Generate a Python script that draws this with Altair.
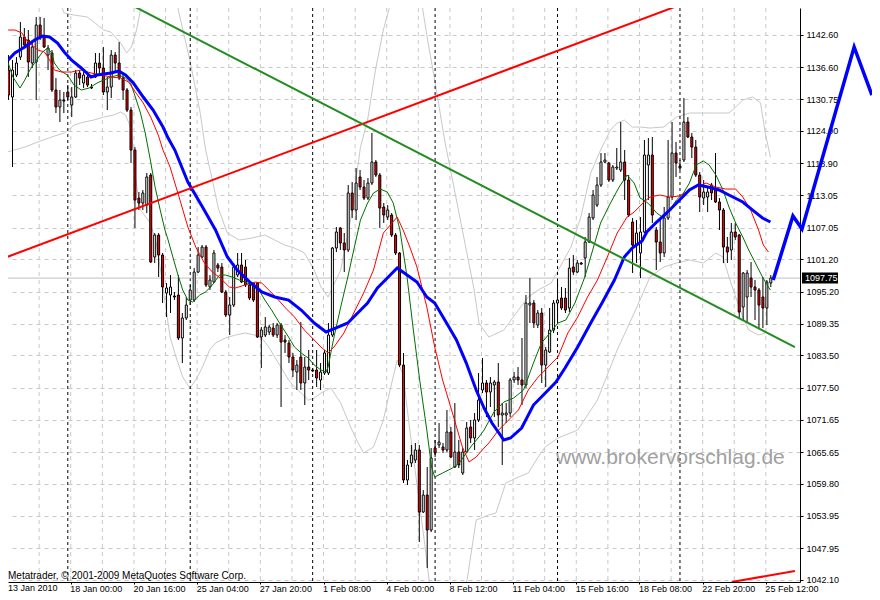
import json
import altair as alt
import pandas as pd

# ---------------- Candles (H4 bars, index 0 = 13 Jan 2010) ----------------
opens = [1136.10,1131.12,1135.18,1138.49,1142.18,1141.63,1137.39,1137.57,1144.39,1142.18,
         1138.86,1139.23,1132.41,1129.28,1130.57,1132.04,1129.65,1131.12,1135.54,1133.70,
         1134.81,1132.96,1134.81,1137.39,1136.47,1132.04,1132.96,1138.86,1137.39,1134.62,
         1132.41,1128.72,1121.35,1112.50,1111.58,1111.21,1116.74,1101.63,1105.68,1102.00,
         1094.99,1094.63,1094.44,1094.63,1086.70,1090.39,1093.70,1093.70,1098.86,1101.63,
         1103.47,1096.10,1097.02,1100.16,1099.79,1095.18,1090.94,1092.78,1098.31,1100.16,
         1099.79,1096.47,1096.84,1096.84,1086.88,1087.25,1087.81,1088.54,1087.25,1089.10,
         1086.33,1085.78,1083.20,1080.43,1083.20,1078.41,1081.35,1080.80,1080.80,1078.96,
         1080.25,1080.25,1087.25,1103.29,1106.98,1104.21,1102.92,1113.43,1110.29,1116.38,
         1114.53,1112.50,1115.27,1119.14,1116.74,1110.85,1109.00,1109.37,1105.68,1102.37,
         1081.72,1060.53,1063.66,1064.21,1066.06,1054.63,1057.76,1051.31,1066.42,1066.98,
         1066.61,1066.06,1069.37,1062.92,1065.69,1061.82,1065.69,1070.30,1068.27,1071.59,
         1077.12,1078.41,1076.75,1078.04,1078.59,1072.51,1072.51,1072.88,1078.96,1079.51,
         1078.96,1078.04,1092.78,1093.15,1089.10,1091.31,1081.72,1084.12,1088.17,1093.15,
         1094.07,1094.07,1092.23,1099.79,1098.86,1100.52,1101.45,1104.39,1108.82,1111.21,
         1114.90,1119.14,1118.96,1115.82,1118.03,1117.67,1119.14,1115.82,1108.08,1103.84,
         1102.37,1106.24,1118.59,1120.43,1106.61,1104.39,1102.37,1108.82,1112.69,1120.80,
         1118.40,1119.51,1126.51,1123.75,1121.90,1116.74,1112.50,1112.69,1114.90,1113.98,
         1111.77,1110.29,1103.47,1102.92,1106.24,1105.68,1092.41,1094.26,1097.76,1096.10,
         1095.55,1094.26,1092.23,1096.84]
highs = [1138.86,1137.94,1138.49,1144.94,1143.84,1143.47,1141.63,1145.87,1145.87,1145.68,
         1140.71,1139.78,1134.62,1132.41,1132.04,1133.33,1132.96,1136.10,1136.10,1135.73,
         1135.73,1133.52,1139.23,1139.23,1140.34,1134.81,1139.78,1139.42,1141.26,1135.54,
         1132.78,1129.28,1121.90,1113.61,1113.98,1117.11,1117.11,1106.05,1106.05,1102.37,
         1096.84,1098.31,1095.18,1098.31,1091.31,1094.26,1096.47,1099.60,1103.47,1103.84,
         1103.84,1098.31,1102.92,1100.52,1100.52,1095.55,1094.26,1100.52,1102.37,1102.37,
         1101.08,1096.84,1097.02,1097.02,1088.73,1090.57,1089.10,1089.47,1089.47,1089.47,
         1087.25,1086.33,1083.94,1082.64,1089.65,1083.20,1084.49,1081.17,1084.49,1082.09,
         1084.49,1089.47,1103.47,1107.16,1107.16,1106.05,1114.90,1115.45,1118.03,1117.67,
         1115.82,1116.19,1124.49,1119.51,1117.11,1111.58,1111.21,1109.74,1106.05,1102.55,
         1083.94,1064.21,1066.98,1067.35,1066.98,1058.68,1062.92,1066.42,1067.90,1071.03,
         1067.35,1073.43,1070.30,1074.72,1067.90,1066.42,1071.22,1071.59,1072.88,1080.25,
         1083.01,1078.96,1079.51,1078.96,1082.09,1074.72,1074.72,1079.33,1080.43,1081.35,
         1086.70,1094.63,1097.76,1093.70,1091.86,1092.23,1085.04,1092.23,1093.70,1097.39,
         1096.10,1095.92,1101.45,1102.00,1101.08,1100.71,1105.32,1109.74,1113.98,1116.38,
         1120.80,1120.80,1119.14,1118.59,1121.72,1126.51,1121.35,1116.74,1108.82,1108.45,
         1109.00,1123.20,1123.56,1123.75,1107.16,1108.45,1110.85,1123.20,1126.51,1122.83,
         1119.51,1130.94,1127.43,1124.49,1123.20,1117.30,1115.82,1114.53,1115.27,1120.80,
         1112.50,1110.66,1105.32,1107.90,1107.90,1105.90,1098.86,1099.23,1100.71,1097.39,
         1095.92,1097.94,1097.39,1098.31]
lows = [1130.57,1118.22,1134.81,1137.94,1140.34,1134.81,1136.47,1130.57,1141.63,1140.15,
        1136.10,1132.04,1128.17,1126.51,1128.17,1130.57,1127.43,1130.94,1133.33,1132.78,
        1132.96,1132.60,1134.62,1135.54,1131.49,1128.72,1130.94,1135.54,1134.25,1130.57,
        1128.36,1118.96,1106.98,1110.29,1110.29,1109.74,1100.52,1100.52,1097.94,1093.15,
        1090.57,1091.31,1093.70,1086.33,1082.09,1090.02,1092.78,1093.34,1098.68,1101.45,
        1096.10,1095.55,1096.84,1098.86,1094.99,1090.57,1087.25,1092.41,1097.94,1096.84,
        1096.10,1093.70,1093.34,1086.70,1081.17,1086.88,1087.25,1086.88,1086.70,1073.98,
        1083.94,1082.09,1079.51,1077.12,1077.12,1074.35,1078.96,1080.43,1077.67,1077.12,
        1079.88,1079.88,1086.88,1102.55,1102.92,1098.86,1102.55,1108.82,1108.45,1113.98,
        1112.14,1112.14,1114.90,1116.38,1106.98,1107.90,1108.45,1105.32,1102.00,1081.35,
        1059.97,1059.60,1062.92,1063.66,1049.10,1054.44,1044.31,1050.94,1064.77,1066.42,
        1065.50,1065.69,1064.58,1062.74,1062.74,1061.45,1065.50,1067.35,1066.06,1071.22,
        1076.56,1072.14,1073.98,1072.14,1070.30,1063.29,1071.03,1072.14,1078.41,1078.04,
        1074.35,1077.48,1089.47,1088.54,1088.54,1078.41,1077.67,1083.94,1087.62,1090.02,
        1091.86,1091.31,1091.49,1098.31,1098.68,1100.16,1097.94,1104.21,1108.45,1110.85,
        1114.53,1118.96,1115.45,1115.45,1117.67,1117.30,1112.14,1109.00,1098.68,1100.52,
        1097.76,1106.05,1112.14,1107.90,1099.23,1100.71,1101.63,1108.45,1112.14,1116.38,
        1117.67,1119.14,1123.56,1119.88,1116.38,1109.92,1111.21,1109.92,1112.14,1111.58,
        1106.61,1100.52,1100.52,1101.08,1104.76,1090.39,1090.02,1089.47,1094.26,1090.02,
        1088.54,1088.54,1089.10,1096.10]
closes = [1131.49,1136.10,1137.39,1142.18,1140.71,1137.57,1140.34,1144.39,1142.00,1140.34,
          1140.15,1132.41,1129.28,1130.57,1130.38,1131.12,1131.12,1135.54,1134.62,1135.18,
          1133.33,1132.78,1137.39,1136.47,1132.04,1132.96,1138.86,1137.39,1134.62,1132.41,
          1128.72,1121.35,1112.14,1111.58,1113.43,1116.38,1100.71,1105.68,1102.00,1096.10,
          1095.92,1096.10,1094.26,1086.70,1090.39,1092.78,1095.55,1098.86,1102.00,1103.47,
          1096.47,1097.39,1102.37,1099.60,1095.18,1090.94,1092.78,1099.79,1100.16,1097.02,
          1096.47,1094.07,1093.70,1086.88,1088.17,1088.73,1088.73,1087.25,1089.10,1085.96,
          1085.96,1083.20,1080.80,1081.72,1078.41,1081.35,1080.80,1080.62,1079.33,1080.43,
          1083.94,1087.25,1103.29,1106.24,1104.21,1102.92,1113.43,1110.29,1115.27,1114.53,
          1112.50,1115.27,1119.14,1116.74,1110.66,1109.37,1110.29,1105.68,1102.37,1081.72,
          1060.53,1063.29,1065.13,1066.06,1054.63,1057.76,1051.31,1064.58,1065.50,1067.53,
          1066.06,1069.37,1064.77,1065.69,1063.29,1065.69,1070.11,1068.27,1071.59,1075.27,
          1078.41,1076.75,1078.41,1078.59,1072.51,1072.88,1072.88,1078.96,1079.51,1078.96,
          1078.04,1093.15,1093.15,1089.47,1091.31,1081.72,1084.49,1088.17,1093.15,1093.70,
          1092.23,1091.86,1099.60,1098.86,1100.52,1100.34,1104.39,1109.00,1113.06,1114.90,
          1119.14,1119.51,1115.82,1118.22,1118.22,1119.14,1115.82,1109.37,1103.84,1106.05,
          1106.24,1120.43,1120.43,1109.37,1104.39,1102.37,1108.82,1112.69,1120.80,1118.96,
          1118.03,1126.51,1123.75,1121.90,1116.74,1112.69,1113.61,1113.61,1113.43,1111.77,
          1110.29,1103.47,1102.55,1106.24,1105.32,1091.49,1098.68,1098.68,1096.10,1095.55,
          1092.78,1092.23,1097.02,1097.76]

# ---------------- Indicator lines: (bar index, price) ----------------
ma_blue = [(-0.1,1137.94),(1.6,1139.23),(4.1,1140.34),(6.6,1141.63),(8.6,1142.36),(10.4,1142.18),
           (12.4,1141.07),(14.1,1139.42),(15.9,1137.94),(18.4,1136.47),(20.9,1134.81),(22.4,1135.18),
           (24.1,1135.36),(25.9,1135.54),(27.9,1135.91),(29.6,1135.18),(31.6,1133.70),(34.1,1131.12),
           (36.6,1128.72),(39.1,1125.59),(40.4,1123.56),(42.1,1121.35),(45.4,1115.45),(49.1,1110.85),
           (52.4,1106.61),(55.4,1101.63),(57.9,1099.23),(61.1,1097.02),(64.1,1095.18),(67.4,1094.26),
           (70.9,1093.70),(74.1,1091.86),(77.4,1089.47),(80.4,1087.81),(83.4,1088.73),(85.9,1089.47),
           (88.4,1091.31),(90.9,1093.15),(93.4,1095.92),(95.9,1097.76),(98.4,1099.60),(100.9,1098.31),
           (103.4,1097.02),(105.9,1094.26),(107.9,1093.15),(110.9,1089.47),(113.4,1086.33),(115.9,1082.09),
           (118.4,1077.12),(120.4,1073.80),(122.4,1071.03),(125.4,1067.90),(127.1,1068.27),(129.9,1070.11),
           (132.9,1074.35),(135.9,1076.56),(138.6,1078.59),(140.9,1081.17),(144.1,1085.04),(147.4,1089.47),
           (150.4,1093.34),(153.4,1097.39),(155.9,1101.63),(157.9,1103.29),(160.4,1104.60),(161.6,1106.24),
           (164.1,1108.08),(167.4,1110.29),(169.9,1112.14),(172.4,1113.98),(174.6,1114.90),(177.1,1114.53),
           (179.9,1113.98),(182.4,1113.06),(185.9,1111.77),(188.4,1110.29),(190.9,1108.82),(192.9,1108.08)]

ma_red = [(-0.1,1143.47),(1.6,1143.47),(3.4,1142.92),(4.9,1141.26),(6.6,1140.34),(7.4,1139.78),
          (9.1,1139.42),(10.4,1137.94),(11.6,1136.10),(13.4,1135.73),(15.9,1135.73),(18.4,1136.10),
          (20.9,1135.55),(23.4,1135.18),(25.9,1134.81),(28.4,1134.62),(30.4,1133.89),(32.1,1132.04),
          (34.1,1130.02),(36.1,1127.25),(37.9,1124.12),(39.1,1121.35),(40.9,1118.22),(43.4,1112.14),
          (45.4,1107.16),(47.4,1103.47),(49.6,1100.52),(51.6,1098.86),(53.6,1097.76),(55.9,1096.10),
          (57.4,1095.92),(59.9,1096.47),(62.4,1097.02),(64.1,1096.84),(65.9,1095.55),(67.9,1094.07),
          (69.9,1092.41),(72.4,1090.57),(74.9,1088.17),(77.4,1086.33),(79.1,1085.04),(80.9,1083.94),
          (82.4,1085.04),(84.9,1087.62),(87.4,1091.31),(89.9,1094.99),(92.4,1099.23),(94.9,1106.05),
          (97.1,1107.90),(98.4,1109.00),(99.9,1106.61),(101.6,1103.47),(103.4,1099.79),(105.9,1092.41),
          (107.9,1085.04),(109.9,1078.96),(112.4,1072.88),(114.9,1066.61),(116.6,1063.85),(118.4,1064.77),
          (120.4,1066.43),(121.6,1067.35),(124.1,1069.74),(126.6,1071.59),(129.1,1073.43),(131.6,1077.12),
          (134.1,1079.51),(136.6,1081.35),(139.1,1083.20),(141.6,1087.62),(144.1,1090.57),(146.6,1094.26),
          (149.1,1097.39),(151.6,1101.63),(154.1,1106.05),(156.6,1109.00),(158.4,1109.92),(160.9,1111.77),
          (162.4,1112.69),(164.9,1113.06),(167.4,1112.69),(169.9,1112.87),(172.4,1113.98),(174.1,1114.53),
          (176.6,1115.27),(179.1,1114.53),(181.6,1114.16),(184.1,1114.16),(185.9,1112.69),(187.9,1110.29),
          (189.9,1106.61),(191.1,1103.84),(192.4,1102.55)]

ma_green = [(-0.1,1137.39),(1.1,1134.81),(2.9,1132.78),(4.1,1134.25),(5.4,1136.10),(7.1,1137.94),
            (8.6,1139.42),(9.9,1140.15),(10.9,1139.23),(11.6,1137.39),(12.9,1136.10),(14.9,1135.18),
            (16.6,1133.33),(18.4,1132.41),(20.4,1132.78),(22.4,1133.70),(24.1,1134.25),(25.9,1134.81),
            (27.9,1135.18),(29.6,1134.62),(30.9,1133.70),(32.1,1131.12),(33.4,1128.17),(34.6,1124.49),
            (35.9,1119.51),(37.1,1114.53),(38.4,1110.29),(39.6,1106.61),(40.4,1104.76),(41.6,1101.63),
            (42.9,1098.31),(44.1,1095.55),(45.4,1093.70),(46.6,1093.34),(48.4,1094.63),(49.9,1095.18),
            (51.6,1096.47),(53.4,1098.31),(54.9,1098.31),(56.6,1097.94),(58.4,1097.39),(59.9,1097.02),
            (61.6,1096.47),(63.4,1095.55),(64.9,1093.70),(66.6,1091.86),(68.6,1089.47),(70.9,1086.88),
            (72.4,1085.04),(74.1,1083.94),(75.9,1083.01),(77.4,1081.72),(79.1,1080.80),(80.4,1080.43),
            (80.9,1081.35),(82.4,1086.88),(84.1,1092.41),(85.9,1097.94),(87.4,1102.92),(89.1,1108.45),
            (90.9,1111.58),(92.4,1113.43),(94.1,1114.16),(95.9,1113.61),(97.4,1111.58),(99.1,1106.61),
            (100.9,1097.94),(102.4,1088.73),(104.1,1078.96),(105.9,1069.74),(107.1,1062.92),(107.9,1061.08),
            (109.9,1061.82),(112.4,1062.74),(114.1,1063.66),(115.9,1065.50),(117.4,1066.98),(119.1,1068.45),
            (120.4,1069.74),(122.9,1073.06),(125.4,1074.90),(127.9,1075.64),(130.4,1077.12),(132.9,1082.09),
            (134.9,1085.78),(137.1,1087.62),(139.1,1089.47),(141.1,1090.02),(143.4,1093.15),(145.9,1097.94),
            (147.9,1102.92),(149.9,1107.90),(152.4,1111.58),(154.6,1114.53),(156.6,1116.74),(158.4,1115.27),
            (159.9,1112.50),(160.9,1112.14),(162.4,1111.21),(164.1,1109.74),(165.9,1108.82),(167.4,1110.29),
            (169.1,1112.14),(170.9,1113.43),(172.4,1115.27),(174.1,1118.59),(175.9,1119.33),(177.4,1118.59),
            (179.1,1116.74),(180.9,1113.98),(182.4,1110.85),(184.1,1107.90),(185.9,1105.32),(187.4,1102.92),
            (189.1,1100.52),(190.9,1097.94),(192.4,1096.10),(192.9,1095.55)]

band_upper_1 = [(11.6,1150.84),(14.1,1146.60),(16.6,1146.24),(19.9,1145.87),(21.6,1144.94),(24.1,1143.47),
                (25.9,1143.10),(28.4,1141.07),(29.9,1139.23),(31.1,1140.34),(32.4,1143.47),(33.4,1147.16),
                (34.1,1150.84)]
band_upper_2 = [(41.6,1150.84),(42.4,1149.00),(45.9,1137.94),(48.4,1128.72),(49.9,1121.35),(51.6,1115.82),
                (53.1,1110.66),(55.4,1106.05),(58.4,1104.76),(61.6,1105.13),(64.9,1105.68),(67.4,1104.76),
                (69.9,1103.84),(72.4,1103.29),(74.9,1102.37),(77.4,1099.23),(79.1,1096.10),(80.9,1094.26),
                (84.1,1099.23),(86.6,1108.45),(89.1,1121.90),(90.9,1126.88),(92.9,1136.10),(94.9,1143.47),
                (96.6,1148.08),(97.9,1150.84)]
band_upper_3 = [(104.1,1150.84),(106.1,1141.63),(107.9,1134.25),(110.4,1123.20),(112.9,1113.98),(115.4,1104.76),
                (117.9,1095.55),(119.1,1089.47),(121.6,1086.88),(125.4,1088.17),(129.1,1091.86),(131.6,1094.26),
                (134.1,1095.55),(137.4,1096.84),(139.9,1100.16),(142.4,1103.47),(144.9,1109.00),(147.4,1117.11),
                (149.9,1121.35),(152.4,1125.04),(154.1,1126.33),(155.9,1126.88),(157.9,1125.59),(159.9,1125.59),
                (162.4,1125.41),(165.9,1125.59),(169.1,1127.43),(172.4,1128.17),(175.9,1128.17),(179.1,1128.17),
                (182.4,1128.17),(184.1,1129.28),(185.9,1130.57),(188.4,1131.12),(190.4,1130.02),(191.6,1124.49),
                (192.9,1120.06)]
band_lower_1 = [(-0.4,1120.98),(4.1,1121.90),(7.4,1122.83),(10.9,1123.75),(14.1,1124.49),(16.6,1125.96),
                (19.1,1126.51),(21.6,1126.88),(24.1,1127.43),(26.6,1127.80),(28.4,1128.36),(29.6,1127.80),
                (30.9,1125.59),(31.6,1121.35),(32.1,1116.38),(33.4,1110.29),(35.9,1107.90),(37.4,1104.21),
                (38.6,1098.68),(39.9,1091.86),(40.9,1086.88),(42.4,1083.20),(44.1,1079.51),(45.9,1077.48),
                (47.4,1078.96),(49.1,1081.35),(50.9,1084.49),(52.4,1085.78),(54.9,1086.70),(57.4,1087.25),
                (59.9,1087.62),(62.4,1087.25),(64.1,1086.70),(65.9,1085.04),(67.4,1083.20),(69.1,1081.17),
                (70.9,1078.96),(72.4,1077.67),(74.1,1076.56),(75.9,1075.27),(77.4,1075.64),(79.1,1076.56),
                (81.6,1077.48),(84.1,1074.72),(86.6,1070.30),(88.4,1067.53),(89.9,1065.50),(92.4,1066.61),
                (94.9,1071.59),(96.6,1077.12),(98.4,1082.64),(99.9,1079.88),(101.6,1069.74),(103.6,1058.68),
                (105.4,1048.55),(107.1,1038.41)]
band_lower_2 = [(114.1,1038.41),(116.1,1042.10),(118.4,1053.15),(121.6,1054.08),(123.4,1054.44),(125.9,1059.97),
                (129.1,1061.08),(131.6,1061.82),(134.1,1064.77),(135.9,1066.61),(139.1,1068.27),(144.1,1069.74),
                (149.1,1075.27),(154.1,1084.49),(159.1,1092.41),(162.4,1097.94),(165.9,1099.79),(169.1,1100.52),
                (172.4,1101.08),(175.9,1100.52),(179.1,1102.37),(180.9,1101.63),(182.4,1097.94),(184.1,1094.26),
                (185.9,1090.57),(187.4,1088.17),(189.9,1087.25),(191.6,1087.62)]

# Forecast zig-zag drawn after the last bar
forecast = [(193.6,1097.39),(198.6,1109.19),(200.9,1106.79),(214.1,1140.34),(218.6,1131.49)]

# Hand-drawn trend lines (start, end)
trend_red = [(-0.4,1101.63),(170.6,1148.26)]
trend_red_low = [(183.1,1041.73),(199.1,1043.76)]
trend_green = [(30.1,1148.45),(199.1,1085.04)]

# Weekly period separators (bar index of Monday 00:00) and the bid line
week_start_bars = [15, 46, 77, 108, 139, 170]
last_price = 1097.75

# Axis labels
y_ticks = [1142.60, 1136.60, 1130.75, 1124.90, 1118.90, 1113.05, 1107.05, 1101.20, 1095.20,
           1089.35, 1083.50, 1077.50, 1071.65, 1065.65, 1059.80, 1053.95, 1047.95, 1042.10]
x_labels = ["18 Jan 00:00", "20 Jan 16:00", "25 Jan 04:00", "27 Jan 20:00", "1 Feb 08:00",
            "4 Feb 00:00", "8 Feb 12:00", "11 Feb 04:00", "15 Feb 16:00", "18 Feb 08:00",
            "22 Feb 20:00", "25 Feb 12:00"]
first_label = "13 Jan 2010"
watermark = "www.brokervorschlag.de"
copyright_txt = "Metatrader, \u00a9 2001-2009 MetaQuotes Software Corp."

# ---------------- Chart ----------------
FONT = "Liberation Sans"
FS = 9
W, H = 792, 574
BARS_PER_LABEL = 16
BARS_PER_GRID = 8
x_scale = alt.Scale(domain=[1.125, 199.125], nice=False, zero=False)
y_scale = alt.Scale(domain=[1041.73, 1147.53], nice=False, zero=False)

label_pos = [BARS_PER_LABEL * (k + 1) - 0.25 for k in range(len(x_labels))]
grid_pos = [BARS_PER_GRID * k - 0.25 for k in range(1, 25)]

LBL = json.dumps(x_labels)
x_axis = alt.Axis(
    values=label_pos,
    labelExpr=f"{LBL}[round((datum.value + 0.25) / {BARS_PER_LABEL}) - 1]",
    grid=False, domainColor="black", tickColor="black", tickSize=2,
    labelAlign="left", labelFont=FONT, labelFontSize=FS, labelColor="black",
    labelPadding=0, labelOffset=-1, labelOverlap=False, labelFlush=False, title=None,
)
y_axis = alt.Axis(
    orient="right", values=y_ticks, format=".2f",
    grid=True, gridColor="#c8c8c8", gridDash=[4, 4],
    domainColor="black", tickColor="black", tickSize=3,
    labelFont=FONT, labelFontSize=FS, labelColor="black", labelPadding=3,
    labelOverlap=False, labelFlush=False, title=None,
)

candles = pd.DataFrame({"bar": range(len(opens)), "open": opens, "high": highs,
                        "low": lows, "close": closes})


def line_df(points, name):
    return pd.DataFrame(points, columns=["bar", "price"]).assign(series=name)


X = alt.X("bar:Q", scale=x_scale, axis=x_axis)
Y = alt.Y("price:Q", scale=y_scale, axis=y_axis)


def line_layer(df, color, width, clip=True):
    return alt.Chart(df).mark_line(color=color, strokeWidth=width, clip=clip).encode(
        x=X, y=Y, detail="series:N")


bands = pd.concat([line_df(band_upper_1, "u1"), line_df(band_upper_2, "u2"),
                   line_df(band_upper_3, "u3"), line_df(band_lower_1, "l1"),
                   line_df(band_lower_2, "l2")])

vgrid = alt.Chart(pd.DataFrame({"bar": grid_pos})).mark_rule(
    color="#c8c8c8", strokeWidth=1, strokeDash=[4, 4]).encode(x=X)

wicks = alt.Chart(candles).mark_rule(color="black", strokeWidth=1, clip=True).encode(
    x=X, y=alt.Y("low:Q", scale=y_scale, axis=y_axis), y2="high:Q",
)
bodies = alt.Chart(candles).mark_bar(size=2, stroke="black", strokeWidth=1,
                                     orient="vertical", clip=True).encode(
    x=X, y=alt.Y("open:Q", scale=y_scale, axis=y_axis), y2="close:Q",
    fill=alt.condition("datum.close >= datum.open", alt.value("white"), alt.value("#ff0000")),
)

separators = alt.Chart(pd.DataFrame({"bar": week_start_bars})).mark_rule(
    color="black", strokeWidth=1, strokeDash=[3, 3]).encode(x=X)

bid_line = alt.Chart(pd.DataFrame({"price": [last_price]})).mark_rule(
    color="#c0c0c0", strokeWidth=1).encode(y=Y)

bid_box = alt.Chart(pd.DataFrame({"price": [last_price]})).mark_tick(
    orient="horizontal", color="black", size=36, thickness=11, opacity=1, clip=False).encode(
    x=alt.value(812), y=Y)
bid_text = alt.Chart(pd.DataFrame({"price": [last_price], "t": [f"{last_price:.2f}"]})).mark_text(
    align="left", baseline="middle", font=FONT, fontSize=FS, color="white", clip=False).encode(
    x=alt.value(797), y=Y, text="t:N")

first_lbl = alt.Chart(pd.DataFrame({"t": [first_label]})).mark_text(
    align="left", baseline="alphabetic", font=FONT, fontSize=FS, color="black", clip=False).encode(
    x=alt.value(0), y=alt.value(583), text="t:N")

wm = alt.Chart(pd.DataFrame({"t": [watermark]})).mark_text(
    align="left", baseline="alphabetic", font=FONT, fontSize=21, color="#a0a0a0").encode(
    x=alt.value(548), y=alt.value(456), text="t:N")

cp = alt.Chart(pd.DataFrame({"t": [copyright_txt]})).mark_text(
    align="left", baseline="alphabetic", font=FONT, fontSize=10, color="black").encode(
    x=alt.value(0), y=alt.value(571), text="t:N")

chart = alt.layer(
    vgrid,
    line_layer(bands, "#c8c8c8", 1),
    separators,
    bid_line,
    wicks,
    bodies,
    line_layer(line_df(ma_green, "g"), "#007000", 1),
    line_layer(line_df(ma_red, "r"), "#ff0000", 1),
    line_layer(line_df(ma_blue, "b"), "#0000ff", 3),
    line_layer(line_df(trend_red, "tr"), "#ff0000", 2),
    line_layer(line_df(trend_red_low, "tr2"), "#ff0000", 2),
    line_layer(line_df(trend_green, "tg"), "#228b22", 2),
    line_layer(line_df(forecast, "fc"), "#0000ff", 3.5, clip=False),
    bid_box, bid_text, first_lbl, wm, cp,
).properties(
    width=W, height=H, background="white",
    autosize=alt.AutoSizeParams(type="none"),
    padding={"left": 0, "top": 0, "right": 72, "bottom": 10},
).configure_view(strokeWidth=0)

chart.save("out.html", embed_options={"renderer": "svg", "actions": False})
